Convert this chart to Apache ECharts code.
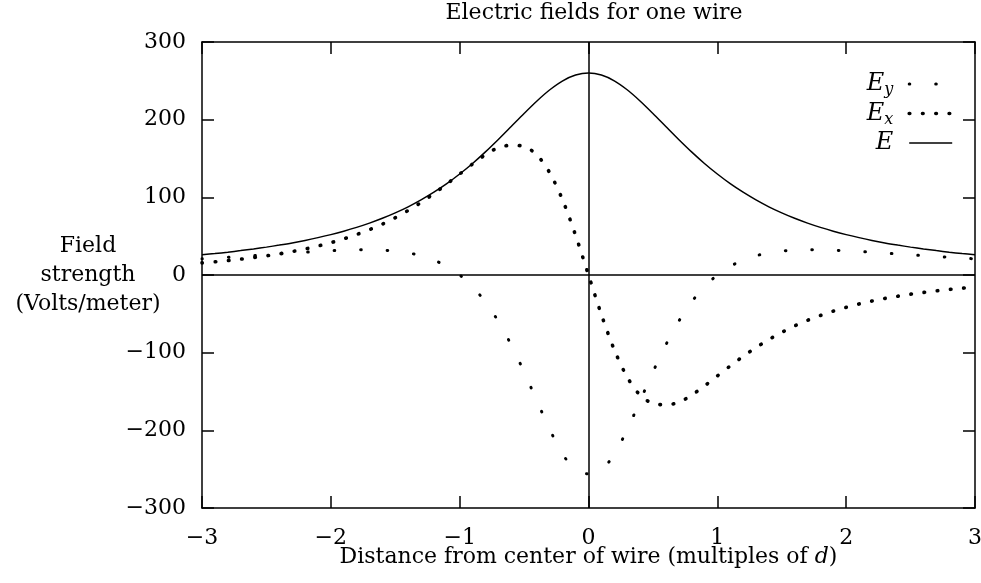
<!DOCTYPE html>
<html>
<head>
<meta charset="utf-8">
<title>Electric fields for one wire</title>
<script src="https://cdn.jsdelivr.net/npm/echarts@6/dist/echarts.min.js"></script>
<style>
  html, body { margin: 0; padding: 0; background: #fff; }
  #chart { width: 981px; height: 583px; }
</style>
</head>
<body>
<div id="chart"></div>
<script>
// Field strength of one wire vs. distance from its centre (in multiples of d).
// Values at 0.1 steps.
const xs = [
  -3.0, -2.9, -2.8, -2.7, -2.6, -2.5, -2.4, -2.3, -2.2, -2.1,
  -2.0, -1.9, -1.8, -1.7, -1.6, -1.5, -1.4, -1.3, -1.2, -1.1,
  -1.0, -0.9, -0.8, -0.7, -0.6, -0.5, -0.4, -0.3, -0.2, -0.1,
  0.0,
  0.1, 0.2, 0.3, 0.4, 0.5, 0.6, 0.7, 0.8, 0.9, 1.0,
  1.1, 1.2, 1.3, 1.4, 1.5, 1.6, 1.7, 1.8, 1.9, 2.0,
  2.1, 2.2, 2.3, 2.4, 2.5, 2.6, 2.7, 2.8, 2.9, 3.0,
];

// total field E (solid)
const fieldE = [
  26, 27.6, 29.4, 31.4, 33.5, 35.9, 38.5, 41.3, 44.5, 48.1,
  52, 56.4, 61.3, 66.8, 73, 80, 87.8, 96.7, 106.6, 117.6,
  130, 143.6, 158.5, 174.5, 191.2, 208, 224.1, 238.5, 250, 257.4,
  260,
  257.4, 250, 238.5, 224.1, 208, 191.2, 174.5, 158.5, 143.6, 130,
  117.6, 106.6, 96.7, 87.8, 80, 73, 66.8, 61.3, 56.4, 52,
  48.1, 44.5, 41.3, 38.5, 35.9, 33.5, 31.4, 29.4, 27.6, 26,
];

// horizontal component Ex (dense dots)
const fieldEx = [
  15.6, 17, 18.6, 20.4, 22.5, 24.7, 27.3, 30.2, 33.5, 37.3,
  41.6, 46.5, 52.1, 58.4, 65.6, 73.8, 83.1, 93.4, 104.8, 117.1,
  130, 142.9, 154.7, 164, 167, 165.5, 154.6, 131.3, 96.2, 51,
  0,
  -51, -96.2, -131.3, -154.6, -165.5, -167, -164, -154.7, -142.9, -130,
  -117.1, -104.8, -93.4, -83.1, -73.8, -65.6, -58.4, -52.1, -46.5, -41.6,
  -37.3, -33.5, -30.2, -27.3, -24.7, -22.5, -20.4, -18.6, -17, -15.6,
];

// vertical component Ey (sparse dots)
const fieldEy = [
  20.8, 21.8, 22.8, 23.8, 24.9, 26, 27.1, 28.2, 29.3, 30.3,
  31.2, 31.9, 32.4, 32.5, 32, 30.8, 28.5, 24.8, 19.2, 11.2,
  0, -15.1, -34.8, -59.7, -90, -124.8, -162.3, -199.1, -230.8, -251,
  -256,
  -251, -230.8, -199.1, -162.3, -124.8, -90, -59.7, -34.8, -15.1, 0,
  11.2, 19.2, 24.8, 28.5, 30.8, 32, 32.5, 32.4, 31.9, 31.2,
  30.3, 29.3, 28.2, 27.1, 26, 24.9, 23.8, 22.8, 21.8, 20.8,
];

const FONT = "DejaVu Serif";
const FS = 22;
const pairs = (ys) => xs.map((x, i) => [x, ys[i]]);
const minus = (v) => String(v).replace("-", "\u2212");

const chart = echarts.init(document.getElementById("chart"), null, { renderer: "canvas" });

// shared look of the boxed frame: inside ticks, black lines
const frameAxis = {
  axisLine: { show: true, onZero: false, lineStyle: { color: "#000", width: 1.5 } },
  axisTick: { show: true, inside: true, length: 12, lineStyle: { color: "#000", width: 1.5 } },
  splitLine: { show: false },
};
const xBase = Object.assign({}, frameAxis, { type: "value", min: -3, max: 3, interval: 1 });
const yBase = Object.assign({}, frameAxis, { type: "value", min: -300, max: 300, interval: 100 });

const legendRich = {
  e: { fontFamily: FONT, fontStyle: "italic", fontSize: 24, color: "#000", lineHeight: 28 },
  s: { fontFamily: FONT, fontStyle: "italic", fontSize: 16, color: "#000", verticalAlign: "bottom" },
  g: { width: 11 },
};

chart.setOption({
  animation: false,
  backgroundColor: "#fff",
  title: {
    text: "Electric fields for one wire",
    left: 594, top: 2, padding: 0, textAlign: "center",
    textStyle: { fontFamily: FONT, fontSize: FS, fontWeight: "normal", color: "#000" },
  },
  grid: { left: 202, right: 6, top: 42, bottom: 75, outerBoundsMode: "none", containLabel: false },
  legend: {
    orient: "vertical", right: 22, top: 67, align: "right",
    itemWidth: 43, itemHeight: 14, itemGap: 3.5,
    itemStyle: { opacity: 0 },
    data: [
      { name: "Ey", lineStyle: { width: 3 } },
      { name: "Ex", lineStyle: { width: 3.6 } },
      { name: "E", lineStyle: { width: 1.5 } },
    ],
    formatter: (n) => n === "E" ? "{e|E}{g| }" : "{e|E}{s|" + n.slice(1) + "}{g| }",
    textStyle: { rich: legendRich },
  },
  xAxis: [
    Object.assign({}, xBase, {
      position: "bottom",
      axisLabel: { color: "#000", fontFamily: FONT, fontSize: FS, margin: 19, formatter: minus },
      name: "Distance from center of wire (multiples of {i|d})",
      nameLocation: "middle", nameGap: 38, nameMoveOverlap: false,
      nameTextStyle: { color: "#000", fontFamily: FONT, fontSize: FS,
        rich: { i: { fontFamily: FONT, fontStyle: "italic", fontSize: FS, color: "#000" } } },
    }),
    Object.assign({}, xBase, { position: "top", axisLabel: { show: false } }),
  ],
  yAxis: [
    Object.assign({}, yBase, {
      position: "left",
      axisLabel: { color: "#000", fontFamily: FONT, fontSize: FS, margin: 16, formatter: minus },
      name: "Field\nstrength\n(Volts/meter)",
      nameLocation: "middle", nameRotate: 0, nameGap: 114, nameMoveOverlap: false,
      nameTextStyle: { color: "#000", fontFamily: FONT, fontSize: FS, lineHeight: 29,
        align: "center", verticalAlign: "middle" },
    }),
    Object.assign({}, yBase, { position: "right", axisLabel: { show: false } }),
  ],
  series: [
    { name: "Ey", type: "line", data: pairs(fieldEy), symbol: "none", smooth: 0.3,
      lineStyle: { color: "#000", width: 3, type: [0.6, 25.9], cap: "round" } },
    { name: "Ex", type: "line", data: pairs(fieldEx), symbol: "none", smooth: 0.3,
      lineStyle: { color: "#000", width: 3.6, type: [0.6, 12.7], cap: "round" } },
    { name: "E", type: "line", data: pairs(fieldE), symbol: "none", smooth: 0.3,
      lineStyle: { color: "#000", width: 1.5 },
      // the zero axes through the middle of the box
      markLine: { silent: true, symbol: ["none", "none"], label: { show: false },
        lineStyle: { color: "#000", width: 1.5, type: "solid" },
        data: [{ xAxis: 0 }, { yAxis: 0 }] } },
  ],
});
</script>
</body>
</html>
